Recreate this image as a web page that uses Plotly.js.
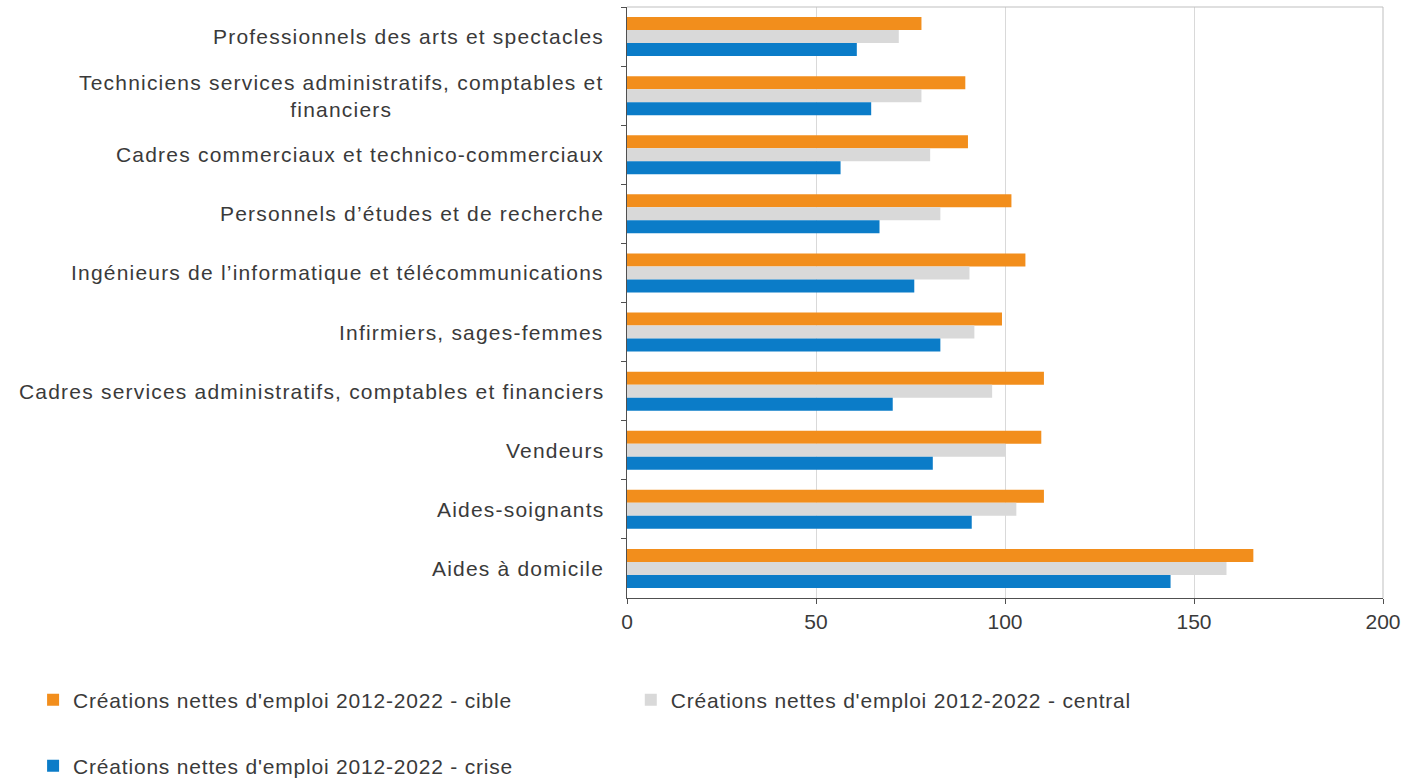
<!DOCTYPE html>
<html>
<head>
<meta charset="utf-8">
<script src="https://cdn.plot.ly/plotly-3.0.1.min.js"></script>
<style>
html, body { margin: 0; padding: 0; background: #ffffff; }
#chart { width: 1408px; height: 779px; }
.annotation-text { letter-spacing: 1.2px; }
.legendtext, .legend2text, .legend3text { letter-spacing: 0.8px; }
</style>
</head>
<body>
<div id="chart"></div>
<script>
// Categories, top to bottom
const categories = [
  "Professionnels des arts et spectacles",
  "Techniciens services administratifs, comptables et<br>financiers",
  "Cadres commerciaux et technico-commerciaux",
  "Personnels d\u2019études et de recherche",
  "Ingénieurs de l\u2019informatique et télécommunications",
  "Infirmiers, sages-femmes",
  "Cadres services administratifs, comptables et financiers",
  "Vendeurs",
  "Aides-soignants",
  "Aides à domicile"
];

const seriesNames = [
  "Créations nettes d'emploi 2012-2022 - cible",
  "Créations nettes d'emploi 2012-2022 - central",
  "Créations nettes d'emploi 2012-2022 - crise"
];

const cible   = [77.9, 89.5, 90.2, 101.7, 105.4, 99.2, 110.3, 109.6, 110.3, 165.7];
const central = [71.9, 77.9, 80.2, 82.9, 90.6, 91.9, 96.6, 100.2, 103.0, 158.6];
const crise   = [60.8, 64.6, 56.5, 66.8, 76.0, 82.9, 70.3, 80.9, 91.2, 143.8];

const xTickVals = [0, 50, 100, 150, 200];

const colors = ["#F28E1C", "#D9D9D9", "#0B7CC8"];
const FONT = "Liberation Sans, Arial, sans-serif";
const TXT = "#3A3A3A";

const seriesValues = [cible, central, crise];
const legendIds = ["legend", "legend2", "legend3"];

const traces = seriesValues.map((vals, i) => ({
  type: "bar",
  orientation: "h",
  name: seriesNames[i],
  x: vals,
  y: categories,
  marker: { color: colors[i], line: { width: 0 } },
  legend: legendIds[i],
  hoverinfo: "x+name"
}));

const labelAnnotations = categories.map(c => ({
  xref: "paper", yref: "y",
  x: 0, y: c,
  xshift: -21,
  xanchor: "right", yanchor: "middle",
  align: "center",
  text: c,
  showarrow: false,
  font: { family: FONT, size: 21, color: TXT }
}));

const legendBase = {
  orientation: "h",
  xref: "container", yref: "container",
  xanchor: "left", yanchor: "middle",
  bgcolor: "rgba(0,0,0,0)",
  borderwidth: 0,
  font: { family: FONT, size: 21, color: TXT }
};

const layout = {
  width: 1408,
  height: 779,
  margin: { l: 627, r: 25, t: 7, b: 181, pad: 0 },
  paper_bgcolor: "#ffffff",
  plot_bgcolor: "#ffffff",
  barmode: "group",
  bargap: 0.34,
  bargroupgap: 0,
  font: { family: FONT, size: 21, color: TXT },
  xaxis: {
    range: [0, 200],
    tickvals: xTickVals,
    ticktext: xTickVals.map(String),
    showgrid: true,
    gridcolor: "#D9D9D9",
    gridwidth: 1,
    zeroline: false,
    showline: true,
    linecolor: "#505050",
    linewidth: 1,
    ticks: "outside",
    ticklen: 5,
    tickcolor: "#505050",
    tickfont: { family: FONT, size: 21, color: TXT },
    ticklabelstandoff: 0,
    fixedrange: true
  },
  yaxis: {
    type: "category",
    categoryorder: "array",
    categoryarray: categories,
    autorange: "reversed",
    showticklabels: false,
    showgrid: false,
    zeroline: false,
    showline: true,
    linecolor: "#505050",
    linewidth: 1,
    ticks: "outside",
    tickson: "boundaries",
    ticklen: 5,
    tickcolor: "#505050",
    fixedrange: true
  },
  shapes: [
    { type: "line", xref: "paper", yref: "paper", x0: 0, x1: 1, y0: 1, y1: 1,
      line: { color: "#BFBFBF", width: 1 } },
    { type: "line", xref: "paper", yref: "paper", x0: 1, x1: 1, y0: 0, y1: 1,
      line: { color: "#BFBFBF", width: 1 } }
  ],
  annotations: labelAnnotations,
  legend:  Object.assign({}, legendBase, { x: 0.0235, y: 1 - 700 / 779 }),
  legend2: Object.assign({}, legendBase, { x: 0.448, y: 1 - 700 / 779 }),
  legend3: Object.assign({}, legendBase, { x: 0.0235, y: 1 - 766 / 779 }),
  showlegend: true
};

Plotly.newPlot("chart", traces, layout, { displayModeBar: false, responsive: false });
</script>
</body>
</html>
